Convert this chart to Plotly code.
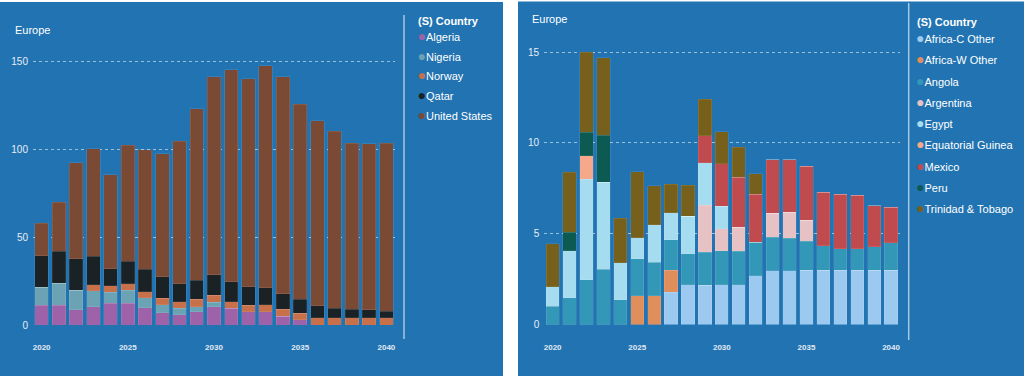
import plotly.graph_objects as go

# ---------------- data ----------------
years = list(range(2020, 2041))

# Left panel (Europe) - stacked
left_series = ["Algeria", "Nigeria", "Norway", "Qatar", "United States"]
algeria = [11.2, 11.2, 8.6, 10.5, 12.5, 12.4, 9.9, 7.0, 5.7, 7.6, 10.3, 9.5, 7.4, 7.4, 5.1, 2.9, 0, 0, 0, 0, 0]
nigeria = [10.3, 12.6, 11.2, 8.9, 6.1, 7.4, 5.5, 4.4, 3.8, 2.9, 2.6, 0, 0, 0, 0, 0, 0, 0, 0, 0, 0]
norway = [0, 0, 0, 3.6, 3.6, 3.6, 3.6, 3.8, 3.8, 4.1, 4.0, 3.8, 3.8, 4.2, 3.8, 3.9, 4.0, 4.0, 4.0, 4.0, 4.0]
qatar = [17.9, 18.2, 18.0, 16.0, 9.7, 12.9, 12.7, 12.2, 10.3, 10.9, 11.6, 11.4, 10.5, 9.7, 9.0, 7.8, 7.0, 5.5, 4.9, 4.6, 3.8]
united_states = [18.4, 27.8, 54.4, 61.2, 53.5, 66.0, 68.1, 70.0, 80.8, 97.5, 112.6, 120.6, 118.5, 126.1, 123.4, 110.9, 105.2, 100.6, 94.4, 94.5, 95.5]
left_values = [algeria, nigeria, norway, qatar, united_states]
left_colors = ["#9e62a8", "#6ba3b4", "#c8704a", "#1b2225", "#7b4a35"]

# Right panel (Europe) - stacked
right_series = ["Africa-C Other", "Africa-W Other", "Angola", "Argentina", "Egypt",
                "Equatorial Guinea", "Mexico", "Peru", "Trinidad & Tobago"]
africa_c_other = [0, 0, 0, 0, 0, 0, 0, 1.78, 2.2, 2.16, 2.2, 2.2, 2.69, 2.95, 2.95, 2.99, 2.99, 2.99, 2.99, 2.99, 2.99]
africa_w_other = [0, 0, 0, 0, 0, 1.59, 1.59, 1.21, 0, 0, 0, 0, 0, 0, 0, 0, 0, 0, 0, 0, 0]
angola = [1.0, 1.47, 2.47, 3.04, 1.37, 2.04, 1.85, 1.68, 1.7, 1.81, 1.85, 1.83, 1.83, 1.85, 1.81, 1.59, 1.35, 1.19, 1.17, 1.3, 1.5]
argentina = [0, 0, 0, 0, 0, 0, 0, 0, 0, 2.59, 1.21, 1.32, 0, 1.32, 1.43, 1.15, 0, 0, 0, 0, 0]
egypt = [1.09, 2.58, 5.53, 4.79, 2.02, 1.15, 2.04, 1.48, 2.05, 2.34, 1.24, 0, 0, 0, 0, 0, 0, 0, 0, 0, 0]
equatorial_guinea = [0, 0, 1.3, 0, 0, 0, 0, 0, 0, 0, 0, 0, 0, 0, 0, 0, 0, 0, 0, 0, 0]
mexico = [0, 0, 0, 0, 0, 0, 0, 0, 0, 1.5, 2.34, 2.75, 2.64, 2.96, 2.89, 2.98, 2.95, 3.0, 2.96, 2.25, 1.96]
peru = [0, 1.02, 1.27, 2.59, 0, 0, 0, 0, 0, 0, 0, 0, 0, 0, 0, 0, 0, 0, 0, 0, 0]
trinidad_tobago = [2.36, 3.31, 4.43, 4.27, 2.45, 3.64, 2.15, 1.58, 1.72, 1.99, 1.76, 1.66, 1.15, 0, 0, 0, 0, 0, 0, 0, 0]
right_values = [africa_c_other, africa_w_other, angola, argentina, egypt,
                equatorial_guinea, mexico, peru, trinidad_tobago]
right_colors = ["#9bc9f0", "#e08e5c", "#3398b8", "#e6c2c5", "#a6dcf0",
                "#f5a98a", "#c04b4e", "#0d5a52", "#77601b"]

left_yticks = [0, 50, 100, 150]
right_yticks = [0, 5, 10, 15]
x_ticks = [2020, 2025, 2030, 2035, 2040]
panel_title = "Europe"
legend_title = "(S) Country"

# ---------------- layout helpers ----------------
W, H = 1024, 376
BG = "#2173b2"
FONT = "Liberation Sans, Arial, sans-serif"


def px(x):
    return x / W


def py(y):
    return 1 - y / H


def legend_label(name, col):
    return "<span style='color:%s;font-size:14px'>\u25CF</span>%s" % (col, name)


fig = go.Figure()

for name, vals, col in zip(left_series, left_values, left_colors):
    fig.add_trace(go.Bar(x=years, y=vals, name=name,
                         marker=dict(color=col, line=dict(width=0.5, color="rgba(255,255,255,0.18)")),
                         xaxis="x", yaxis="y", showlegend=False))
    fig.add_trace(go.Scatter(x=[None], y=[None], mode="lines", name=legend_label(name, col),
                             line=dict(width=0, color=col), hoverinfo="skip",
                             xaxis="x", yaxis="y", legend="legend", legendgroup="L" + name))

for name, vals, col in zip(right_series, right_values, right_colors):
    fig.add_trace(go.Bar(x=years, y=vals, name=name,
                         marker=dict(color=col, line=dict(width=0.5, color="rgba(255,255,255,0.18)")),
                         xaxis="x2", yaxis="y2", showlegend=False))
    fig.add_trace(go.Scatter(x=[None], y=[None], mode="lines", name=legend_label(name, col),
                             line=dict(width=0, color=col), hoverinfo="skip",
                             xaxis="x2", yaxis="y2", legend="legend2", legendgroup="R" + name))

grid = dict(showgrid=True, gridcolor="rgba(255,255,255,0.55)", griddash="dot", gridwidth=1,
            zeroline=False, showline=False, ticks="", automargin=False,
            tickfont=dict(family=FONT, size=10, color="#e8eef6"), fixedrange=True)
xax = dict(showgrid=False, zeroline=False, showline=False, ticks="", tickmode="array",
           tickvals=x_ticks, ticktext=["<b>%d</b>" % t for t in x_ticks], automargin=False,
           tickfont=dict(family=FONT, size=8, color="#e2eaf3"), range=[2019.5, 2040.5],
           ticklabelstandoff=16, fixedrange=True)

legend_common = dict(xanchor="left", yanchor="top", bgcolor="rgba(0,0,0,0)",
                     font=dict(family=FONT, size=11, color="white"),
                     traceorder="grouped", itemclick=False, itemdoubleclick=False)

fig.update_layout(
    width=W, height=H, margin=dict(l=0, r=0, t=0, b=0, pad=0, autoexpand=False), autosize=False,
    paper_bgcolor="white", plot_bgcolor="rgba(0,0,0,0)",
    barmode="stack", bargap=0.22,
    font=dict(family=FONT, color="white"),
    xaxis=dict(domain=[px(33), px(395)], anchor="y", **xax),
    yaxis=dict(domain=[py(325), py(52.5)], range=[0, 155], anchor="x", tickmode="array",
               tickvals=left_yticks, ticklabelstandoff=4, **grid),
    xaxis2=dict(domain=[px(544.2), px(899.5)], anchor="y2", **xax),
    yaxis2=dict(domain=[py(324.5), py(41.1)], range=[0, 15.6], anchor="x2", tickmode="array",
                tickvals=right_yticks, ticklabelstandoff=4, **grid),
    legend=dict(x=px(377.5), y=py(22.1), tracegroupgap=0.75, **legend_common),
    legend2=dict(x=px(876), y=py(24.2), tracegroupgap=2.3, **legend_common),
    shapes=[
        dict(type="rect", xref="paper", yref="paper", x0=0, x1=px(503), y0=0, y1=py(2),
             fillcolor=BG, line=dict(width=0), layer="below"),
        dict(type="rect", xref="paper", yref="paper", x0=px(518), x1=1, y0=0, y1=py(1.5),
             fillcolor=BG, line=dict(width=0), layer="below"),
        dict(type="line", xref="paper", yref="paper", x0=px(404), x1=px(404), y0=py(339), y1=py(15),
             line=dict(color="rgba(255,255,255,0.6)", width=1.5)),
        dict(type="line", xref="paper", yref="paper", x0=px(908.7), x1=px(908.7), y0=py(340), y1=py(3),
             line=dict(color="rgba(255,255,255,0.6)", width=1.5)),
    ],
    annotations=[
        dict(text=panel_title, xref="paper", yref="paper", x=px(13), y=py(29.5), xanchor="left",
             yanchor="middle", showarrow=False, font=dict(family=FONT, size=11, color="white")),
        dict(text=panel_title, xref="paper", yref="paper", x=px(530), y=py(19), xanchor="left",
             yanchor="middle", showarrow=False, font=dict(family=FONT, size=11, color="white")),
        dict(text="<b>%s</b>" % legend_title, xref="paper", yref="paper", x=px(415.5), y=py(20.7),
             xanchor="left", yanchor="middle", showarrow=False,
             font=dict(family=FONT, size=11, color="white")),
        dict(text="<b>%s</b>" % legend_title, xref="paper", yref="paper", x=px(915), y=py(22),
             xanchor="left", yanchor="middle", showarrow=False,
             font=dict(family=FONT, size=11, color="white")),
    ],
)

fig.write_html("out.html", config={"displayModeBar": False},
               post_script="document.body.style.margin='0';document.body.style.overflow='hidden';")
